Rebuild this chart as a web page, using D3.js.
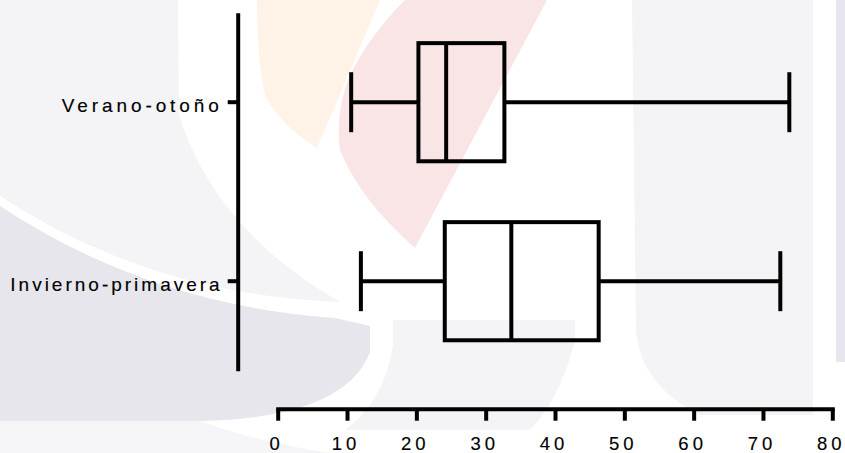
<!DOCTYPE html>
<html>
<head>
<meta charset="utf-8">
<script src="https://cdn.jsdelivr.net/npm/d3@7"></script>
<style>
  html, body { margin: 0; padding: 0; background: #fff; }
  svg { display: block; }
</style>
</head>
<body>
<div id="chart"></div>
<script>
// box plot data
const categories = ["Verano-otoño", "Invierno-primavera"];
const mins = [10.6, 12.0];
const q1s = [20.3, 24.1];
const medians = [24.3, 33.7];
const q3s = [32.7, 46.3];
const maxs = [73.8, 72.5];
const xTicks = [0, 10, 20, 30, 40, 50, 60, 70, 80];

const W = 845, H = 453;
const font = "'Liberation Sans', Arial, sans-serif";

const svg = d3.select("#chart").append("svg")
  .attr("width", W)
  .attr("height", H);

// faint watermark behind the chart
const bg = svg.append("g").attr("class", "watermark");
bg.append("path")
  .attr("d", "M0,0 L178,0 L179,115 Q215,230 340,302 Q150,295 0,196 Z")
  .attr("fill", "#f4f4f7");
bg.append("path")
  .attr("d", "M0,206 Q150,305 335,318 L370,326 L370,352 Q345,418 200,421 L0,421 Z")
  .attr("fill", "#e7e6ec");
bg.append("path")
  .attr("d", "M0,421 L200,421 Q250,440 330,453 L0,453 Z")
  .attr("fill", "#f5f5f8");
bg.append("path")
  .attr("d", "M257,0 L380,0 L317,148 Q280,125 265,95 Q257,60 257,0 Z")
  .attr("fill", "#fef3e6");
bg.append("path")
  .attr("d", "M405,0 L547,0 L415,248 Q360,200 340,150 Q335,110 350,75 Q370,35 405,0 Z")
  .attr("fill", "#fae5e6");
bg.append("path")
  .attr("d", "M393,320 L575,320 L575,340 Q560,400 530,430 L345,430 Q385,400 393,345 Z")
  .attr("fill", "#f4f4f7");
bg.append("path")
  .attr("d", "M632,0 L813,0 L813,415 L700,415 Q640,385 636,330 Z")
  .attr("fill", "#f4f4f7");
bg.append("rect")
  .attr("x", 836).attr("y", 0).attr("width", 9).attr("height", 362)
  .attr("fill", "#e7e6ec");

// scales
const x = d3.scaleLinear().domain([0, 80]).range([277.7, 832.3]);
const y = d3.scaleBand().domain(categories).range([12.7, 370.7]);
const axisY = 408.7, axisX = 237.7;

// x axis
const gx = svg.append("g")
  .attr("transform", `translate(0,${axisY})`)
  .call(d3.axisBottom(x).tickValues(xTicks).tickSizeInner(12).tickSizeOuter(0).tickPadding(16));
gx.select(".domain").attr("stroke", "#000").attr("stroke-width", 4).attr("stroke-linecap", "square");
gx.selectAll(".tick line").attr("stroke", "#000").attr("stroke-width", 4);
gx.selectAll(".tick text")
  .attr("fill", "#000")
  .attr("stroke", "#000")
  .attr("stroke-width", 0.15)
  .attr("dx", "-1.5")
  .style("font-family", font)
  .style("font-size", "18.5px")
  .style("letter-spacing", "4px");

// y axis
const labelSpacing = ["3.9px", "3.0px"];
const gy = svg.append("g")
  .attr("transform", `translate(${axisX},0)`)
  .call(d3.axisLeft(y).tickSizeInner(10).tickSizeOuter(0).tickPadding(5));
gy.select(".domain").attr("stroke", "#000").attr("stroke-width", 4);
gy.selectAll(".tick line").attr("stroke", "#000").attr("stroke-width", 4);
gy.selectAll(".tick text")
  .attr("fill", "#000")
  .attr("stroke", "#000")
  .attr("stroke-width", 0.15)
  .attr("dy", "0.5em")
  .style("font-family", font)
  .style("font-size", "19px")
  .style("letter-spacing", (d, i) => labelSpacing[i]);

// boxes
const bw = y.bandwidth();
const boxH = bw * 0.66, capH = bw * 0.335;

const boxes = svg.append("g").selectAll("g")
  .data(categories)
  .join("g")
  .attr("stroke", "#000")
  .attr("stroke-width", 4)
  .attr("fill", "none");

boxes.each(function(c, i) {
  const g = d3.select(this);
  const cy = y(c) + bw / 2;
  // whiskers
  g.append("line")
    .attr("x1", x(mins[i])).attr("x2", x(q1s[i]))
    .attr("y1", cy).attr("y2", cy);
  g.append("line")
    .attr("x1", x(q3s[i])).attr("x2", x(maxs[i]))
    .attr("y1", cy).attr("y2", cy);
  // caps
  [mins[i], maxs[i]].forEach(v => {
    g.append("line")
      .attr("x1", x(v)).attr("x2", x(v))
      .attr("y1", cy - capH / 2).attr("y2", cy + capH / 2);
  });
  // box
  g.append("rect")
    .attr("x", x(q1s[i]))
    .attr("y", cy - boxH / 2)
    .attr("width", x(q3s[i]) - x(q1s[i]))
    .attr("height", boxH);
  // median
  g.append("line")
    .attr("x1", x(medians[i])).attr("x2", x(medians[i]))
    .attr("y1", cy - boxH / 2).attr("y2", cy + boxH / 2);
});
</script>
</body>
</html>
